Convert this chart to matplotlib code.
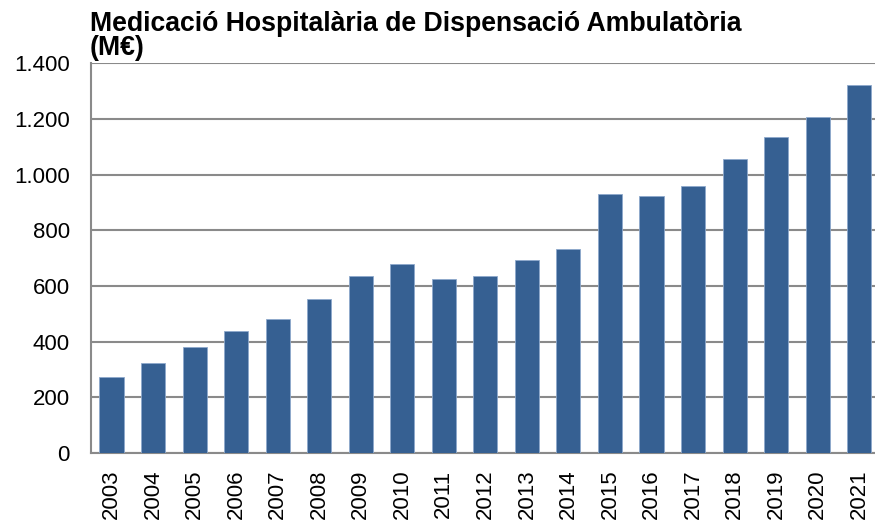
import matplotlib
matplotlib.use("Agg")
import matplotlib.pyplot as plt
from matplotlib.ticker import FuncFormatter

years = ["2003", "2004", "2005", "2006", "2007", "2008", "2009", "2010", "2011", "2012",
         "2013", "2014", "2015", "2016", "2017", "2018", "2019", "2020", "2021"]
values = [274, 323, 382, 440, 483, 553, 637, 680, 626, 637,
          694, 732, 932, 924, 959, 1056, 1137, 1207, 1323]
title = "Medicació Hospitalària de Dispensació Ambulatòria\n(M€)"

plt.rcParams['font.family'] = ['Liberation Sans', 'DejaVu Sans']

fig = plt.figure(figsize=(8.75, 5.22), dpi=100)
ax = fig.add_axes([0.1037, 0.1322, 0.902, 0.7465])

x = list(range(len(years)))
ax.bar(x, values, width=0.58, color='#366092', edgecolor='#8ea9cc', linewidth=0.6, zorder=3)

ax.set_xlim(-0.5, len(years) - 0.5)
ax.set_ylim(0, 1400)
ax.set_yticks(range(0, 1401, 200))
ax.yaxis.set_major_formatter(FuncFormatter(lambda v, p: f"{int(v):,}".replace(",", ".")))
ax.set_xticks(x)
ax.set_xticklabels(years, rotation=90)
ax.tick_params(axis='y', length=0, pad=15, labelsize=16)
ax.tick_params(axis='x', length=0, pad=12, labelsize=16)

ax.grid(axis='y', color='#8a8a8a', linewidth=1.5, zorder=0)
for s in ['top', 'right']:
    ax.spines[s].set_visible(False)
for s in ['left', 'bottom']:
    ax.spines[s].set_color('#8a8a8a')
    ax.spines[s].set_linewidth(1.5)

fig.text(90 / 875, 1 - 11 / 522, title, ha='left', va='top', fontsize=19.2,
         fontweight='bold', linespacing=0.9)

fig.savefig("out.png", dpi=100)
